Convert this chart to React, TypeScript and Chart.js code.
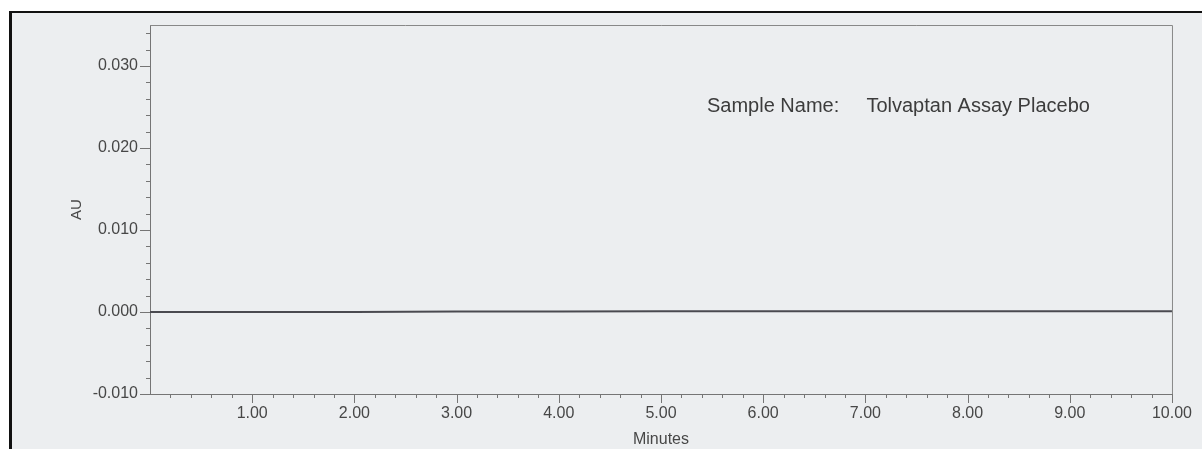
import React, { useEffect, useRef } from "react";
import { Chart, registerables } from "chart.js";

Chart.register(...registerables);

// ---- data ----
const TIMES_MIN = [0, 1, 2, 3, 4, 5, 6, 7, 8, 9, 10];
const AU_VALUES = [0.0, 0.0, 0.0, 0.00005, 0.00005, 0.0001, 0.0001, 0.0001, 0.0001, 0.0001, 0.0001];

const X_TICKS = [1, 2, 3, 4, 5, 6, 7, 8, 9, 10];
const Y_TICKS = [-0.01, 0.0, 0.01, 0.02, 0.03];
const X_MINOR_STEP = 0.2;
const Y_MINOR_STEP = 0.002;

const X_MIN = 0;
const X_MAX = 10;
const Y_MIN = -0.01;
const Y_MAX = 0.035;

const SAMPLE_LABEL = "Sample Name:";
const SAMPLE_NAME = "Tolvaptan Assay Placebo";
const X_TITLE = "Minutes";
const Y_TITLE = "AU";

const FONT = "'Liberation Sans', Arial, sans-serif";
const TEXT_COLOR = "#474747";
const AXIS_COLOR = "#757575";

const decorPlugin = {
  id: "decor",
  afterDraw(chart: any) {
    const { ctx, chartArea } = chart;
    const xs = chart.scales.x;
    const ys = chart.scales.y;
    ctx.save();
    // top & right frame of the plot
    ctx.strokeStyle = "#888888";
    ctx.lineWidth = 1;
    ctx.beginPath();
    ctx.moveTo(chartArea.left, chartArea.top + 0.5);
    ctx.lineTo(chartArea.right + 0.5, chartArea.top + 0.5);
    ctx.lineTo(chartArea.right + 0.5, chartArea.bottom);
    ctx.stroke();

    // tick marks (minor + major)
    ctx.strokeStyle = AXIS_COLOR;
    ctx.beginPath();
    const nX = Math.round((X_MAX - X_MIN) / X_MINOR_STEP);
    for (let i = 1; i <= nX; i++) {
      const v = X_MIN + i * X_MINOR_STEP;
      const major = i % 5 === 0;
      const px = Math.round(xs.getPixelForValue(v)) + 0.5;
      ctx.moveTo(px, chartArea.bottom);
      ctx.lineTo(px, chartArea.bottom + (major ? 9 : 4));
    }
    const kMin = Math.round(Y_MIN / Y_MINOR_STEP);
    const kMax = Math.floor(Y_MAX / Y_MINOR_STEP + 1e-9);
    for (let k = kMin; k <= kMax; k++) {
      const v = k * Y_MINOR_STEP;
      const major = k % 5 === 0;
      const py = Math.round(ys.getPixelForValue(v)) + 0.5;
      ctx.moveTo(chartArea.left, py);
      ctx.lineTo(chartArea.left - (major ? 10 : 4), py);
    }
    ctx.stroke();

    // sample name annotation
    ctx.fillStyle = "#3c3c3c";
    ctx.font = `20px ${FONT}`;
    ctx.textBaseline = "alphabetic";
    ctx.textAlign = "left";
    const baseY = ys.getPixelForValue(0.0244);
    ctx.fillText(SAMPLE_LABEL, xs.getPixelForValue(5.45), baseY);
    ctx.fillText(SAMPLE_NAME, xs.getPixelForValue(7.01), baseY);
    ctx.restore();
  },
};

export default function App() {
  const canvasRef = useRef<HTMLCanvasElement | null>(null);

  useEffect(() => {
    const canvas = canvasRef.current;
    if (!canvas) return;
    const chart = new Chart(canvas, {
      type: "line",
      data: {
        datasets: [
          {
            label: SAMPLE_NAME,
            data: TIMES_MIN.map((t, i) => ({ x: t, y: AU_VALUES[i] })),
            borderColor: "#4a4a50",
            borderWidth: 2,
            pointRadius: 0,
            tension: 0,
            fill: false,
          },
        ],
      },
      options: {
        responsive: false,
        animation: false,
        events: [],
        layout: { padding: { top: 25, right: 28, left: 0, bottom: 0 } },
        plugins: {
          legend: { display: false },
          tooltip: { enabled: false },
          title: { display: false },
        },
        scales: {
          x: {
            type: "linear",
            min: X_MIN,
            max: X_MAX,
            afterBuildTicks: (scale: any) => {
              scale.ticks = X_TICKS.map((v) => ({ value: v }));
            },
            afterFit: (scale: any) => {
              scale.height = 55;
            },
            grid: { display: true, drawOnChartArea: false, drawTicks: false },
            border: { display: true, color: AXIS_COLOR, width: 1 },
            ticks: {
              autoSkip: false,
              maxRotation: 0,
              padding: 10,
              color: TEXT_COLOR,
              font: { family: FONT, size: 16 },
              callback: (v: any) => Number(v).toFixed(2),
            },
            title: {
              display: true,
              text: X_TITLE,
              color: TEXT_COLOR,
              font: { family: FONT, size: 16 },
              padding: { top: 0, bottom: 0 },
            },
          },
          y: {
            type: "linear",
            min: Y_MIN,
            max: Y_MAX,
            afterBuildTicks: (scale: any) => {
              scale.ticks = Y_TICKS.map((v) => ({ value: v }));
            },
            afterFit: (scale: any) => {
              scale.width = 150;
            },
            grid: { display: true, drawOnChartArea: false, drawTicks: false },
            border: { display: true, color: AXIS_COLOR, width: 1 },
            ticks: {
              padding: 12,
              color: TEXT_COLOR,
              font: { family: FONT, size: 16 },
              callback: (v: any) => Number(v).toFixed(3),
            },
            title: {
              display: true,
              text: Y_TITLE,
              color: TEXT_COLOR,
              font: { family: FONT, size: 15 },
              padding: { top: 68, bottom: 0 },
            },
          },
        },
      },
      plugins: [decorPlugin],
    } as any);
    return () => chart.destroy();
  }, []);

  return (
    <div
      style={{
        position: "fixed",
        left: 0,
        top: 0,
        width: 1202,
        height: 449,
        overflow: "hidden",
        background: "#ffffff",
      }}
    >
      <div
        style={{
          position: "absolute",
          left: 9,
          top: 11,
          width: 1260,
          height: 500,
          borderLeft: "3px solid #111",
          borderTop: "2px solid #111",
          background: "#eceef0",
        }}
      />
      <canvas
        ref={canvasRef}
        width={1202}
        height={449}
        style={{ position: "absolute", left: 0, top: 0, width: 1202, height: 449 }}
      />
    </div>
  );
}
